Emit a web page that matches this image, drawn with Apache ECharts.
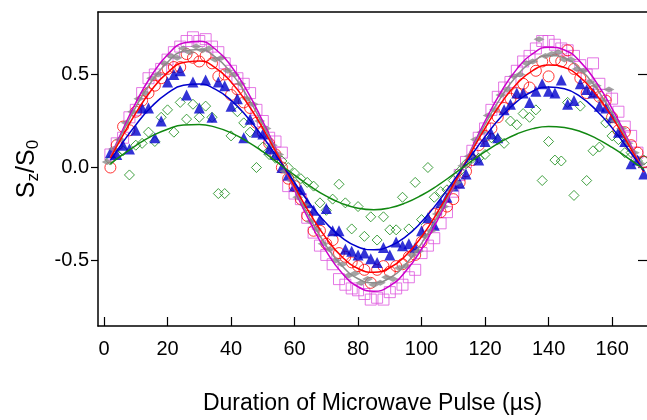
<!DOCTYPE html>
<html><head><meta charset="utf-8">
<script src="https://cdn.jsdelivr.net/npm/echarts@6/dist/echarts.min.js"></script>
<style>html,body{margin:0;padding:0;background:#fff}#c{width:647px;height:420px}</style>
</head><body><div id="c"></div>
<script>
// ---- data ----
var xTicks = [0, 20, 40, 60, 80, 100, 120, 140, 160];
var yTicks = [-0.5, 0, 0.5];
var xEven = [2,4,6,8,10,12,14,16,18,20,22,24,26,28,30,32,34,36,38,40,42,44,46,48,50,52,54,56,58,60,62,64,66,68,70,72,74,76,78,80,82,84,86,88,90,92,94,96,98,100,102,104,106,108,110,112,114,116,118,120,122,124,126,128,130,132,134,136,138,140,142,144,146,148,150,152,154,156,158,160,162,164,166,168,170];
var xOdd = [1,3,5,7,9,11,13,15,17,19,21,23,25,27,29,31,33,35,37,39,41,43,45,47,49,51,53,55,57,59,61,63,65,67,69,71,73,75,77,79,81,83,85,87,89,91,93,95,97,99,101,103,105,107,109,111,113,115,117,119,121,123,125,127,129,131,133,135,137,139,141,143,145,147,149,151,153,155,157,159,161,163,165,167,169];
var magentaPts = [0.07,0.13,0.16,0.27,0.31,0.40,0.48,0.50,0.53,0.58,0.62,0.65,0.68,0.70,0.68,0.69,0.65,0.62,0.56,0.52,0.48,0.45,0.40,0.31,0.25,0.16,0.14,0.08,-0.10,-0.14,-0.17,-0.27,-0.35,-0.42,-0.47,-0.52,-0.60,-0.63,-0.65,-0.66,-0.68,-0.71,-0.70,-0.71,-0.67,-0.65,-0.63,-0.59,-0.55,-0.46,-0.42,-0.38,-0.30,-0.24,-0.13,-0.04,0.03,0.09,0.16,0.21,0.31,0.38,0.43,0.46,0.52,0.57,0.60,0.64,0.68,0.68,0.66,0.64,0.63,0.60,0.55,0.50,0.56,0.45,0.39,0.37,0.30,0.22,0.17,0.08,0.03];
var redPts = [0.00,0.12,0.22,0.20,0.30,0.36,0.40,0.44,0.48,0.53,0.54,0.54,0.61,0.59,0.57,0.60,0.56,0.49,0.50,0.39,0.42,0.35,0.32,0.24,0.19,0.13,0.07,0.00,-0.06,-0.10,-0.17,-0.26,-0.34,-0.34,-0.41,-0.39,-0.46,-0.48,-0.51,-0.53,-0.55,-0.62,-0.55,-0.53,-0.56,-0.53,-0.52,-0.48,-0.47,-0.40,-0.33,-0.25,-0.24,-0.21,-0.17,-0.08,-0.02,0.04,0.12,0.17,0.21,0.27,0.32,0.37,0.40,0.45,0.43,0.52,0.57,0.49,0.58,0.57,0.63,0.53,0.48,0.40,0.41,0.38,0.36,0.27,0.20,0.19,0.12,0.08,0.03];
var bluePts = [0.08,0.07,0.12,0.10,0.20,0.32,0.32,0.16,0.25,0.46,0.50,0.52,0.39,0.46,0.32,0.47,0.27,0.46,0.44,0.33,0.37,0.16,0.26,0.19,0.18,0.10,0.07,0.00,-0.04,-0.10,-0.12,-0.19,-0.23,-0.28,-0.22,-0.34,-0.34,-0.44,-0.45,-0.47,-0.46,-0.49,-0.51,-0.43,-0.47,-0.40,-0.42,-0.41,-0.43,-0.34,-0.27,-0.31,-0.19,-0.16,-0.10,-0.085,-0.035,0.07,0.04,0.14,0.18,0.16,0.31,0.34,0.40,0.40,0.35,0.41,0.45,0.41,0.40,0.47,0.34,0.36,0.45,0.42,0.40,0.33,0.32,0.27,0.19,0.14,0.02,0.04,-0.035];
var greenPts = [0.04,0.07,0.09,-0.04,0.12,0.13,0.19,0.14,0.27,0.31,0.19,0.35,0.26,0.34,0.27,0.33,0.27,-0.14,-0.14,0.17,0.30,0.24,0.19,0.00,0.11,0.07,0.05,0.035,0.00,-0.03,-0.06,-0.08,-0.10,-0.19,-0.23,-0.17,-0.09,-0.19,-0.33,-0.21,-0.37,-0.265,-0.39,-0.265,-0.335,-0.335,-0.16,-0.33,-0.08,-0.28,0.00,-0.16,-0.13,-0.12,-0.07,-0.02,0.02,0.05,0.05,0.07,0.16,0.15,0.13,0.25,0.23,0.29,0.27,0.31,-0.07,0.14,0.04,0.035,0.35,-0.15,0.33,-0.07,0.09,0.11,0.24,0.17,0.15,0.08,0.08,0.035,0.04];
var grayPts = [0.03,0.10,0.15,0.24,0.30,0.37,0.40,0.48,0.50,0.56,0.60,0.59,0.64,0.62,0.65,0.63,0.64,0.58,0.59,0.52,0.50,0.45,0.37,0.34,0.25,0.21,0.12,0.07,-0.02,-0.07,-0.16,-0.20,-0.29,-0.33,-0.41,-0.44,-0.50,-0.52,-0.58,-0.57,-0.62,-0.60,-0.63,-0.62,-0.59,-0.60,-0.54,-0.53,-0.47,-0.45,-0.37,-0.34,-0.25,-0.21,-0.12,-0.08,0.01,0.06,0.15,0.19,0.28,0.31,0.39,0.42,0.49,0.50,0.56,0.57,0.69,0.60,0.61,0.62,0.58,0.58,0.53,0.52,0.46,0.44,0.36,0.42,0.25,0.21,0.13,0.08,0.02];
// fitted curves, read at these x positions
var xFit = [2,5,10,15,20,25,30,35,40,45,50,55,60,65,70,75,80,85,90,95,100,105,110,115,120,125,130,135,140,145,150,155,160,165,170];
var magentaFit = [0.058,0.171,0.348,0.496,0.606,0.669,0.679,0.637,0.546,0.413,0.248,0.066,-0.122,-0.298,-0.451,-0.569,-0.641,-0.665,-0.636,-0.558,-0.438,-0.284,-0.110,0.074,0.249,0.405,0.529,0.612,0.647,0.632,0.568,0.459,0.317,0.151,-0.027];
var grayFit = [0.054,0.160,0.325,0.464,0.566,0.625,0.634,0.595,0.510,0.385,0.232,0.062,-0.113,-0.278,-0.421,-0.530,-0.598,-0.620,-0.593,-0.520,-0.408,-0.265,-0.102,0.069,0.232,0.377,0.493,0.569,0.602,0.588,0.528,0.427,0.295,0.140,-0.025];
var redFit = [0.049,0.144,0.292,0.418,0.510,0.564,0.572,0.537,0.460,0.348,0.210,0.056,-0.103,-0.252,-0.381,-0.481,-0.543,-0.563,-0.539,-0.473,-0.372,-0.241,-0.093,0.063,0.212,0.345,0.450,0.521,0.551,0.538,0.484,0.392,0.271,0.129,-0.023];
var blueFit = [0.038,0.113,0.229,0.328,0.400,0.442,0.449,0.421,0.361,0.273,0.165,0.044,-0.081,-0.198,-0.300,-0.378,-0.427,-0.442,-0.423,-0.372,-0.292,-0.190,-0.073,0.049,0.166,0.271,0.354,0.410,0.433,0.423,0.381,0.308,0.213,0.101,-0.018];
var greenFit = [0.020,0.058,0.118,0.169,0.206,0.228,0.231,0.217,0.186,0.141,0.085,0.022,-0.041,-0.102,-0.154,-0.194,-0.219,-0.227,-0.217,-0.190,-0.149,-0.097,-0.037,0.025,0.085,0.138,0.180,0.209,0.221,0.215,0.194,0.157,0.108,0.051,-0.009];

// ---- build ----
function pairs(xs, ys){ return xs.map(function(x,i){ return [x, ys[i]]; }); }
var FONT = 'Liberation Sans, Arial, Helvetica, sans-serif';
var C = {magenta:'#cc00cc', sq:'#dd55dd', gray:'#8c8c8c', red:'#ff0000', blue:'#0000cc', green:'#118811'};
function scat(name, xs, ys, symbol, size, fill, stroke, z){
  return {type:'scatter', name:name, data:pairs(xs, ys), symbol:symbol, symbolSize:size, z:z,
    itemStyle:{color:fill, borderColor:stroke, borderWidth: fill==='none'?1:0}, silent:true, animation:false};
}
function fit(name, ys, color){
  return {type:'line', name:name, data:pairs(xFit, ys), smooth:0.5, showSymbol:false, symbol:'none', z:10,
    lineStyle:{color:color, width:1.5}, silent:true, animation:false};
}
var chart = echarts.init(document.getElementById('c'), null, {renderer:'canvas'});
chart.setOption({
  animation:false,
  grid:{left:98, right:0, top:12, bottom:89, containLabel:false},
  xAxis:[{
    type:'value', min:-1.9, max:171, position:'bottom',
    name:'Duration of Microwave Pulse (\u00b5s)', nameLocation:'middle', nameGap:66,
    nameTextStyle:{fontFamily:FONT, fontSize:23, color:'#000'},
    axisLine:{show:true, onZero:false, lineStyle:{color:'#000', width:1.5}},
    axisTick:{show:true, inside:true, length:9, customValues:xTicks, lineStyle:{color:'#000', width:1.2}},
    axisLabel:{customValues:xTicks, margin:13, fontFamily:FONT, fontSize:20, color:'#000'},
    splitLine:{show:false}
  },{
    type:'value', min:-1.9, max:171, position:'top',
    axisLine:{show:true, onZero:false, lineStyle:{color:'#000', width:1.5}},
    axisTick:{show:false}, axisLabel:{show:false}, splitLine:{show:false}
  }],
  yAxis:[{
    type:'value', min:-0.852, max:0.836, position:'left',
    name:'{a|S}{s|z}{a|/S}{s|0}', nameLocation:'middle', nameGap:56, nameRotate:90,
    nameTextStyle:{fontFamily:FONT, color:'#000', rich:{
      a:{fontFamily:FONT, fontSize:25, color:'#000'},
      s:{fontFamily:FONT, fontSize:17, color:'#000', padding:[13,0,0,0]}
    }},
    axisLine:{show:true, onZero:false, lineStyle:{color:'#000', width:1.5}},
    axisTick:{show:true, inside:false, length:7, customValues:yTicks, lineStyle:{color:'#000', width:1.2}},
    axisLabel:{customValues:yTicks, margin:9, fontFamily:FONT, fontSize:20, color:'#000',
      formatter:function(v){ return v.toFixed(1); }},
    splitLine:{show:false}
  },{
    type:'value', min:-0.852, max:0.836, position:'right',
    axisLine:{show:false, onZero:false},
    axisTick:{show:true, inside:true, length:9, customValues:yTicks, lineStyle:{color:'#000', width:1.2}},
    axisLabel:{show:false}, splitLine:{show:false}
  }],
  series:[
    scat('magenta', xEven, magentaPts, 'rect', 11, 'none', C.sq, 2),
    scat('red', xEven, redPts, 'circle', 11, 'none', C.red, 3),
    scat('green', xEven, greenPts, 'diamond', 10, 'none', C.green, 4),
    scat('blue', xEven, bluePts, 'triangle', 11, C.blue, C.blue, 5),
    scat('gray', xOdd, grayPts, 'diamond', [11,6], C.gray, C.gray, 6),
    fit('magentaFit', magentaFit, C.magenta),
    fit('grayFit', grayFit, C.gray),
    fit('redFit', redFit, C.red),
    fit('blueFit', blueFit, C.blue),
    fit('greenFit', greenFit, '#118811')
  ]
});
</script></body></html>
